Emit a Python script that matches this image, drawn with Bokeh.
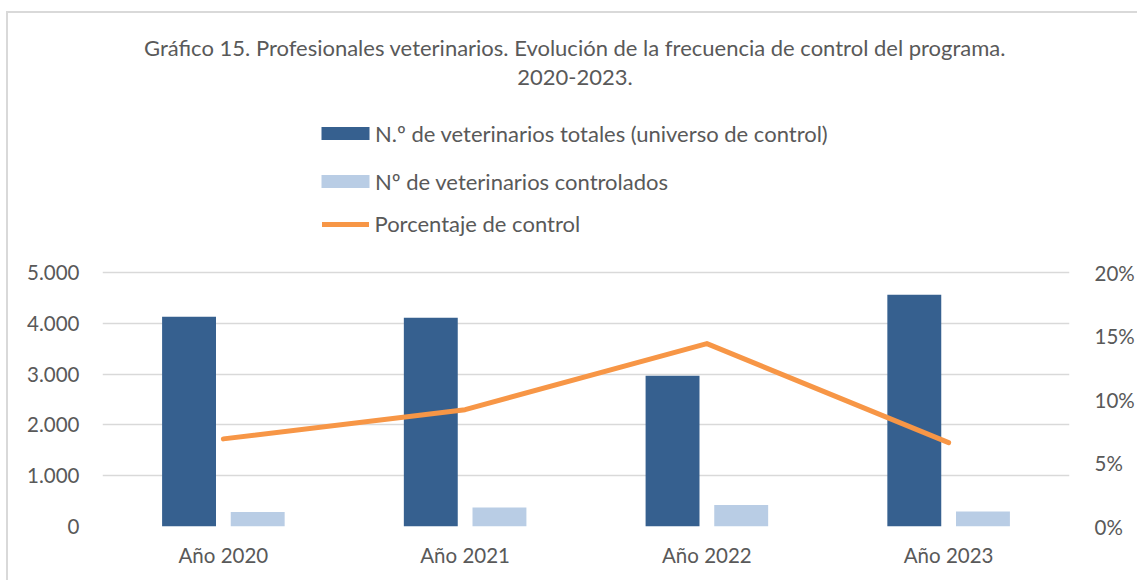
from bokeh.plotting import figure
from bokeh.models import (ColumnDataSource, FactorRange, Range1d, LinearAxis, FixedTicker,
                          CustomJSTickFormatter, NumeralTickFormatter, Legend, LegendItem, Label,
                          InlineStyleSheet)
from bokeh.transform import dodge
from bokeh.embed import file_html
from bokeh.resources import INLINE

# ---- data ----
categories = ["Año 2020", "Año 2021", "Año 2022", "Año 2023"]
vets_totales = [4128, 4108, 2966, 4560]
vets_controlados = [283, 374, 421, 295]
pct_control = [0.069, 0.092, 0.144, 0.066]
left_ticks = [0, 1000, 2000, 3000, 4000, 5000]
right_ticks = [0, 0.05, 0.10, 0.15, 0.20]
title_lines = ["Gráfico 15. Profesionales veterinarios. Evolución de la frecuencia de control del programa.",
               "2020-2023."]
legend_labels = ["N.º de veterinarios totales (universo de control)",
                 "Nº de veterinarios controlados",
                 "Porcentaje de control"]

# ---- layout constants (page pixels; Bokeh page has no body margin) ----
W, H = 1137, 580
MB_LEFT, MB_RIGHT, MB_TOP, MB_BOTTOM = 102, 67, 0, 54
FRAME_H = H - MB_TOP - MB_BOTTOM
AXIS_PX = 254  # pixels spanned by 0..5000
Y_END = 5000 * FRAME_H / AXIS_PX
PCT_END = 0.20 * FRAME_H / AXIS_PX
FRAME_LEFT_PAGE = MB_LEFT
FRAME_BOTTOM_PAGE = MB_TOP + FRAME_H
CAT_PX = (W - MB_LEFT - MB_RIGHT) / len(categories)

def x_of(px):
    return (px - FRAME_LEFT_PAGE) / CAT_PX

def y_of(py):
    return (FRAME_BOTTOM_PAGE - py) * 5000 / AXIS_PX

TEXT = "#595959"
FONT = "Lato"
DARK = "#36608F"
LIGHT = "#B9CDE5"
ORANGE = "#F79646"
GRID = "#D9D9D9"

src = ColumnDataSource(dict(cat=categories, total=vets_totales, ctrl=vets_controlados, pct=pct_control))

p = figure(width=W, height=H, x_range=FactorRange(*categories, range_padding=0),
           y_range=Range1d(0, Y_END), output_backend="svg", toolbar_location=None,
           min_border_left=MB_LEFT, min_border_right=MB_RIGHT, min_border_top=MB_TOP,
           min_border_bottom=MB_BOTTOM)
p.outline_line_color = None
p.background_fill_color = "white"
p.border_fill_color = "white"
p.extra_y_ranges = {"pct": Range1d(0, PCT_END)}

# thin chart-area border on the left and top, as in the reference (two plain strips)
p.stylesheets = [InlineStyleSheet(css=(
    ":host::before { content: ''; position: absolute; left: 6px; top: 11px; "
    "width: 1.5px; height: 569px; background: #D9D9D9; border: none; "
    "pointer-events: none; z-index: 10; }"
    ":host::after { content: ''; position: absolute; left: 6px; top: 11px; "
    "width: 1131px; height: 1.5px; background: #D9D9D9; border: none; "
    "pointer-events: none; z-index: 10; }"))]

r_total = p.vbar(x=dodge("cat", -0.142, range=p.x_range), top="total", width=0.223,
                 source=src, fill_color=DARK, line_color=None)
r_ctrl = p.vbar(x=dodge("cat", 0.142, range=p.x_range), top="ctrl", width=0.223,
                source=src, fill_color=LIGHT, line_color=None)
r_pct = p.line(x="cat", y="pct", source=src, y_range_name="pct", line_color=ORANGE,
               line_width=5, line_cap="round", line_join="round")

# grid
p.xgrid.grid_line_color = None
p.ygrid.ticker = FixedTicker(ticks=left_ticks)
p.ygrid.grid_line_color = GRID
p.ygrid.grid_line_width = 1.5

# left axis
ya = p.yaxis[0]
ya.ticker = FixedTicker(ticks=left_ticks)
ya.formatter = CustomJSTickFormatter(code="return tick.toFixed(0).replace(/\\B(?=(\\d{3})+(?!\\d))/g, '.');")
ya.axis_line_color = None
ya.major_tick_line_color = None
ya.minor_tick_line_color = None
ya.major_label_standoff = 17
ya.major_label_text_font = FONT
ya.major_label_text_font_size = "20.5px"
ya.major_label_text_color = TEXT

# right axis
ra = LinearAxis(y_range_name="pct", ticker=FixedTicker(ticks=right_ticks),
                formatter=NumeralTickFormatter(format="0%"))
ra.axis_line_color = None
ra.major_tick_line_color = None
ra.minor_tick_line_color = None
ra.major_label_standoff = 19
ra.major_label_text_font = FONT
ra.major_label_text_font_size = "20.5px"
ra.major_label_text_color = TEXT
p.add_layout(ra, "right")

# x axis
xa = p.xaxis[0]
xa.axis_line_color = None
xa.major_tick_line_color = None
xa.minor_tick_line_color = None
xa.major_label_standoff = 10
xa.major_label_text_font = FONT
xa.major_label_text_font_size = "20.5px"
xa.major_label_text_color = TEXT

# title
for txt, py in zip(title_lines, [47, 77]):
    p.add_layout(Label(x=x_of(575), y=y_of(py), text=txt, text_align="center",
                       text_baseline="middle", text_font=FONT, text_font_size="22px",
                       text_color=TEXT))

# legend: bars (area glyphs are drawn inset by 10% inside the glyph box)
leg_style = dict(orientation="vertical", padding=0, margin=0, border_line_color=None,
                 background_fill_alpha=0, label_text_font=FONT, label_text_font_size="22px",
                 label_text_color=TEXT)
legend_bars = Legend(items=[LegendItem(label=legend_labels[0], renderers=[r_total]),
                            LegendItem(label=legend_labels[1], renderers=[r_ctrl])],
                     location=(315 - FRAME_LEFT_PAGE, FRAME_BOTTOM_PAGE - 194.5),
                     spacing=21, glyph_width=60, glyph_height=16, label_standoff=0, **leg_style)
legend_line = Legend(items=[LegendItem(label=legend_labels[2], renderers=[r_pct])],
                     location=(321.5 - FRAME_LEFT_PAGE, FRAME_BOTTOM_PAGE - 237),
                     spacing=0, glyph_width=47, glyph_height=16, label_standoff=6, **leg_style)
p.add_layout(legend_bars)
p.add_layout(legend_line)

open("out.html", "w").write(file_html(p, INLINE))
